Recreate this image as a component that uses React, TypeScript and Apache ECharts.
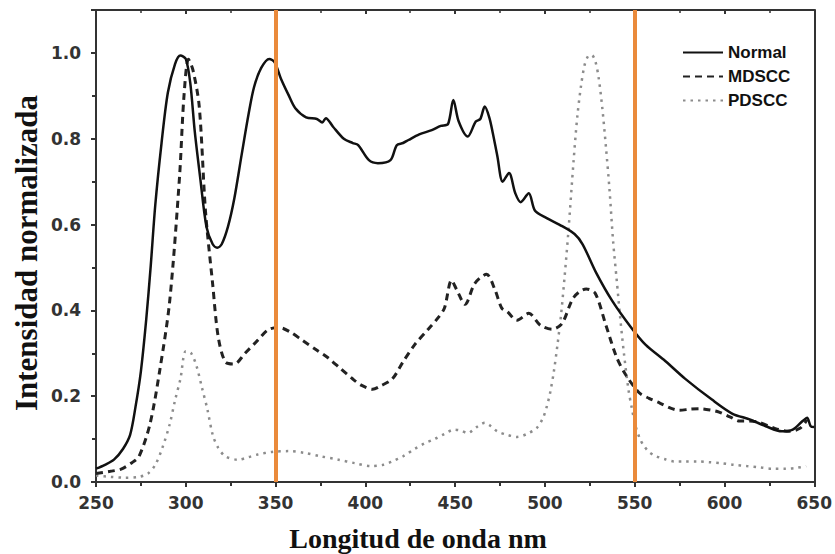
import React, { useEffect, useRef } from "react";
import * as echarts from "echarts";

// ---- data ----
const normalNm = [250,255,260,265,269,272,275,278,280.5,283,286.5,290,294,297,300,302.5,305,308,311.5,315,317.5,320,323.5,327,331,335,338,342,346.5,349.5,353,357,361,367,373,376,378,382,388,393,396,402,407,414,417.5,421,424,430,437,442,446,449,452,457,461.5,464,466.5,469,471,473.5,476.5,480,483.5,486.5,491,494.5,501,508,516.5,521,528.5,537.5,548,556,567,578,593,604.5,614,623,632,638,643.5,646,648,650];
const normalVal = [0.031,0.04,0.052,0.077,0.11,0.175,0.258,0.38,0.505,0.645,0.79,0.907,0.974,0.994,0.986,0.93,0.817,0.71,0.595,0.554,0.546,0.554,0.595,0.66,0.76,0.858,0.92,0.965,0.986,0.978,0.94,0.904,0.871,0.85,0.846,0.838,0.848,0.828,0.80,0.79,0.785,0.75,0.743,0.75,0.785,0.79,0.797,0.81,0.82,0.83,0.834,0.89,0.84,0.805,0.84,0.846,0.875,0.85,0.813,0.76,0.70,0.72,0.673,0.652,0.673,0.632,0.615,0.60,0.578,0.554,0.488,0.422,0.36,0.32,0.282,0.241,0.192,0.159,0.146,0.13,0.118,0.122,0.142,0.15,0.13,0.128];

const mdNm = [250,258,264,270,274,280,285.5,291,296.5,299,301.5,304,307.5,311,315,318,322,327,333,340,346,352,358,365,372,379,386,393,398,404,409,415,421,427.5,435,440,444,448,451,455.5,461,467.5,472,476,479,484.5,491,497.5,504,509.5,516,523,528,534,540,545,552.5,558,564,570,575,581,586,592,597,603,608.5,614,620,628,636,642,646];
const mdVal = [0.02,0.025,0.03,0.045,0.06,0.134,0.26,0.42,0.71,0.9,0.985,0.96,0.875,0.63,0.46,0.34,0.28,0.275,0.3,0.33,0.355,0.36,0.35,0.33,0.31,0.29,0.265,0.24,0.225,0.216,0.225,0.24,0.28,0.32,0.356,0.38,0.405,0.47,0.447,0.414,0.463,0.484,0.45,0.405,0.397,0.377,0.393,0.365,0.356,0.369,0.43,0.45,0.44,0.365,0.29,0.25,0.208,0.195,0.184,0.172,0.167,0.17,0.171,0.168,0.163,0.152,0.142,0.142,0.138,0.125,0.118,0.125,0.145];

const pdNm = [250,258,266,274,279,283,287,291,294,297,300,303,306,309,312,315,318,322,329,335,340,348,357,366,375,385,394,403,410,415,421,427.5,433,438.5,444,449.5,453,457,462,466.5,470,473.5,479,484.5,490,495.5,499,501,503,505,507,509,511,513,516,518,520,522,524,526,528,530,532,534,536,538,540,542,544,546.5,548.5,550.5,553,555,558,562,567,572,578,585,592,598,605,612.5,620,627,634,640,645.5];
const pdVal = [0.015,0.012,0.01,0.012,0.02,0.04,0.08,0.134,0.19,0.24,0.305,0.3,0.27,0.22,0.17,0.11,0.08,0.06,0.052,0.058,0.064,0.07,0.072,0.068,0.06,0.052,0.044,0.037,0.04,0.048,0.06,0.077,0.09,0.1,0.112,0.122,0.12,0.114,0.128,0.138,0.13,0.118,0.11,0.105,0.112,0.126,0.15,0.175,0.21,0.258,0.32,0.39,0.48,0.58,0.75,0.85,0.92,0.97,0.992,0.995,0.982,0.94,0.87,0.78,0.68,0.56,0.47,0.38,0.3,0.216,0.17,0.13,0.1,0.085,0.07,0.06,0.053,0.048,0.048,0.048,0.046,0.044,0.04,0.037,0.034,0.031,0.031,0.033,0.037];

const seriesNames = ["Normal", "MDSCC", "PDSCC"];
const markerNm = [350, 550];
const xTitle = "Longitud de onda nm";
const yTitle = "Intensidad normalizada";

const zip = (xs: number[], ys: number[]) => xs.map((x, i) => [x, ys[i]]);

export default function App() {
  const ref = useRef<HTMLDivElement>(null);
  useEffect(() => {
    if (!ref.current) return;
    const chart = echarts.init(ref.current, null, { renderer: "svg" });
    const axisColor = "#333";
    const tickFont = {
      fontFamily: "DejaVu Sans",
      fontWeight: "bold" as const,
      fontSize: 17,
      color: "#333",
    };
    chart.setOption({
      animation: false,
      backgroundColor: "#fff",
      grid: { left: 96, right: 20, top: 10, bottom: 72, containLabel: false },
      legend: {
        orient: "vertical",
        left: 677,
        top: 39,
        padding: 5,
        itemWidth: 40,
        itemHeight: 10,
        itemGap: 7,
        data: seriesNames,
        itemStyle: { opacity: 0 },
        textStyle: { fontFamily: "Liberation Sans", fontWeight: "bold", fontSize: 17, color: "#111" },
      },
      xAxis: [
        {
          type: "value",
          min: 250,
          max: 650,
          interval: 50,
          axisLine: { show: true, onZero: false, lineStyle: { color: axisColor, width: 2 } },
          axisTick: { show: true, inside: false, length: 5, lineStyle: { color: axisColor, width: 2 } },
          minorTick: { show: true, splitNumber: 2, length: 4, lineStyle: { color: axisColor, width: 2 } },
          splitLine: { show: false },
          axisLabel: { ...tickFont, margin: 12 },
        },
        {
          type: "value",
          position: "top",
          min: 250,
          max: 650,
          interval: 50,
          axisLine: { show: true, onZero: false, lineStyle: { color: axisColor, width: 2 } },
          axisTick: { show: true, inside: true, length: 4, lineStyle: { color: axisColor, width: 2 } },
          minorTick: { show: true, splitNumber: 2, length: 3, lineStyle: { color: axisColor, width: 1.5 } },
          splitLine: { show: false },
          axisLabel: { show: false },
        },
      ],
      yAxis: [
        {
          type: "value",
          min: 0,
          max: 1.1,
          interval: 0.2,
          axisLine: { show: true, onZero: false, lineStyle: { color: axisColor, width: 2 } },
          axisTick: { show: true, inside: false, length: 5, lineStyle: { color: axisColor, width: 2 } },
          minorTick: { show: true, splitNumber: 2, length: 4, lineStyle: { color: axisColor, width: 2 } },
          splitLine: { show: false },
          axisLabel: {
            ...tickFont,
            margin: 15,
            showMaxLabel: false,
            formatter: (v: number) => (v > 1.05 ? "" : v.toFixed(1)),
          },
        },
        {
          type: "value",
          position: "right",
          min: 0,
          max: 1.1,
          axisLine: { show: true, onZero: false, lineStyle: { color: axisColor, width: 2 } },
          axisTick: { show: false },
          splitLine: { show: false },
          axisLabel: { show: false },
        },
      ],
      series: [
        {
          name: seriesNames[0],
          type: "line",
          data: zip(normalNm, normalVal),
          showSymbol: false,
          symbol: "none",
          smooth: 0.3,
          z: 4,
          lineStyle: { color: "#111", width: 2.5, type: "solid" },
          itemStyle: { color: "#111" },
          markLine: {
            silent: true,
            symbol: ["none", "none"],
            label: { show: false },
            lineStyle: { color: "#EA8A3B", width: 4, type: "solid" },
            data: markerNm.map((v) => ({ xAxis: v })),
          },
        },
        {
          name: seriesNames[1],
          type: "line",
          data: zip(mdNm, mdVal),
          showSymbol: false,
          symbol: "none",
          smooth: 0.3,
          z: 3,
          lineStyle: { color: "#222", width: 3, type: [7, 5] },
          itemStyle: { color: "#222" },
        },
        {
          name: seriesNames[2],
          type: "line",
          data: zip(pdNm, pdVal),
          showSymbol: false,
          symbol: "none",
          smooth: 0.3,
          z: 2,
          lineStyle: { color: "#8c8c8c", width: 2.5, type: [2.5, 5] },
          itemStyle: { color: "#8c8c8c" },
        },
      ],
      graphic: [
        {
          type: "text",
          x: 418,
          y: 538,
          style: {
            text: xTitle,
            fontFamily: "Liberation Serif",
            fontWeight: "bold",
            fontSize: 28,
            fill: "#111",
            textAlign: "center",
            textVerticalAlign: "middle",
          },
        },
        {
          type: "text",
          x: 26,
          y: 253,
          rotation: Math.PI / 2,
          style: {
            text: yTitle,
            fontFamily: "Liberation Serif",
            fontWeight: "bold",
            fontSize: 31,
            fill: "#111",
            textAlign: "center",
            textVerticalAlign: "middle",
          },
        },
      ],
    });
    return () => chart.dispose();
  }, []);
  return (
    <div
      ref={ref}
      style={{ position: "absolute", left: 0, top: 0, width: 835, height: 554, background: "#fff" }}
    />
  );
}
